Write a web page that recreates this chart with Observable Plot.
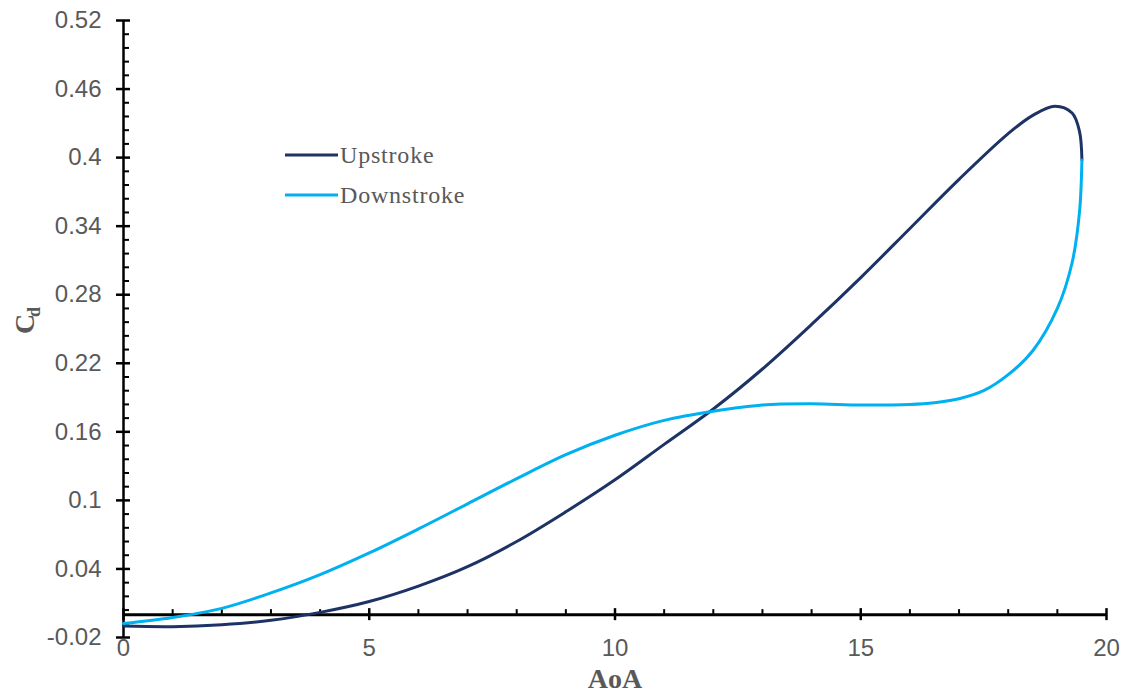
<!DOCTYPE html>
<html>
<head>
<meta charset="utf-8">
<script src="https://cdn.jsdelivr.net/npm/d3@7"></script>
<script src="https://cdn.jsdelivr.net/npm/@observablehq/plot@0.6"></script>
<style>
  html, body { margin: 0; padding: 0; background: #ffffff; }
  #chart { width: 1123px; height: 693px; }
</style>
</head>
<body>
<div id="chart"></div>
<script>
// Drag coefficient over one pitching cycle, angle of attack in degrees
const upAoA = [0, 1, 2, 3, 4, 5, 6, 7, 8, 9, 10, 11, 12, 13, 14, 15, 16, 17, 18, 18.5, 18.95, 19.3, 19.45, 19.5];
const upCd = [-0.010, -0.0105, -0.0088, -0.005, 0.002, 0.0115, 0.025, 0.042, 0.064, 0.090, 0.118, 0.149, 0.180, 0.215, 0.254, 0.295, 0.338, 0.381, 0.421, 0.437, 0.445, 0.439, 0.423, 0.398];

const downAoA = [19.5, 19.45, 19.3, 19.0, 18.5, 18, 17.5, 17, 16.5, 16, 15, 14, 13, 12, 11, 10, 9, 8, 7, 6, 5, 4, 3, 2, 1, 0];
const downCd = [0.398, 0.352, 0.308, 0.268, 0.231, 0.210, 0.196, 0.189, 0.1855, 0.184, 0.1835, 0.1845, 0.1835, 0.178, 0.170, 0.157, 0.140, 0.119, 0.097, 0.075, 0.054, 0.035, 0.019, 0.0055, -0.0025, -0.0078];

const seriesNames = ["Upstroke", "Downstroke"];
const seriesColors = ["#1d3366", "#00b0f0"];

const xDomain = [0, 20];
const yDomain = [-0.02, 0.52];
const xMajor = [0, 5, 10, 15, 20];
const yMajor = [-0.02, 0.04, 0.1, 0.16, 0.22, 0.28, 0.34, 0.4, 0.46, 0.52];

// minor ticks: 1 degree on x, 0.012 on y (five per major step)
const xMinor = d3.range(1, 20).filter(v => v % 5 !== 0);
const yMinor = d3.range(1, 45).filter(i => i % 5 !== 0).map(i => +(-0.02 + 0.012 * i).toFixed(3));

const up = upAoA.map((a, i) => ({aoa: a, cd: upCd[i]}));
const down = downAoA.map((a, i) => ({aoa: a, cd: downCd[i]}));

const labelColor = "#595959";
const serif = "'Liberation Serif', 'Times New Roman', serif";

const plot = Plot.plot({
  width: 1123,
  height: 693,
  marginTop: 20,
  marginRight: 17,
  marginBottom: 56,
  marginLeft: 123,
  x: {domain: xDomain, axis: null},
  y: {domain: yDomain, axis: null},
  style: {
    fontFamily: "'Liberation Sans', Arial, sans-serif",
    fontSize: "24px",
    color: labelColor,
    background: "#ffffff",
    overflow: "visible"
  },
  marks: [
    // tick labels
    Plot.axisX(xMajor, {tickSize: 0, tickPadding: 1, tickFormat: d => String(d), label: null, fontSize: 24}),
    Plot.axisY(yMajor, {tickSize: 0, tickPadding: 22, tickFormat: d => String(d), label: null, fontSize: 24}),

    // axis titles
    Plot.text(["AoA"], {text: d => d, frameAnchor: "bottom", lineAnchor: "bottom", dy: 50,
      fontFamily: serif, fontWeight: "bold", fontSize: 28, fill: labelColor}),
    Plot.text(["C"], {text: d => d, frameAnchor: "left", rotate: -90, lineAnchor: "bottom", dx: -90, dy: 5,
      fontFamily: serif, fontWeight: "bold", fontSize: 28, fill: labelColor}),
    Plot.text(["d"], {text: d => d, frameAnchor: "left", rotate: -90, lineAnchor: "bottom", dx: -84, dy: -12,
      fontFamily: serif, fontWeight: "bold", fontSize: 18, fill: labelColor}),

    // axis lines
    Plot.ruleX([xDomain[0]], {y1: () => yDomain[0], y2: () => yDomain[1], stroke: "black", strokeWidth: 2.5}),
    Plot.ruleY([0], {x1: () => xDomain[0], x2: () => xDomain[1], stroke: "black", strokeWidth: 3}),

    // y ticks: major cross the axis, minor point inward
    Plot.ruleY(yMajor, {x1: () => xDomain[0], x2: () => xDomain[0], insetLeft: -7, insetRight: -7, stroke: "black", strokeWidth: 2.5}),
    Plot.ruleY(yMinor, {x1: () => xDomain[0], x2: () => xDomain[0], insetLeft: 0, insetRight: -6, stroke: "black", strokeWidth: 2}),

    // x ticks on the zero line
    Plot.ruleX(xMajor, {y1: () => 0, y2: () => 0, insetTop: -6, insetBottom: -6, stroke: "black", strokeWidth: 2.5}),
    Plot.ruleX(xMinor, {y1: () => 0, y2: () => 0, insetTop: -5, insetBottom: 0, stroke: "black", strokeWidth: 2}),

    // hysteresis loop
    Plot.line(up, {x: "aoa", y: "cd", stroke: seriesColors[0], strokeWidth: 3, curve: "catmull-rom"}),
    Plot.line(down, {x: "aoa", y: "cd", stroke: seriesColors[1], strokeWidth: 3, curve: "catmull-rom"})
  ]
});

// legend
const svg = d3.select(plot);
const legend = svg.append("g")
  .attr("font-family", serif)
  .attr("font-size", 24)
  .attr("letter-spacing", 0.8)
  .attr("text-anchor", "start")
  .attr("fill", labelColor);
seriesNames.forEach((name, i) => {
  const g = legend.append("g").attr("transform", `translate(285, ${155 + 40 * i})`);
  g.append("line").attr("x1", 0).attr("x2", 53).attr("stroke", seriesColors[i]).attr("stroke-width", 3);
  g.append("text").attr("x", 55).attr("y", 7.5).attr("text-anchor", "start").text(name);
});

document.getElementById("chart").appendChild(plot);
</script>
</body>
</html>
